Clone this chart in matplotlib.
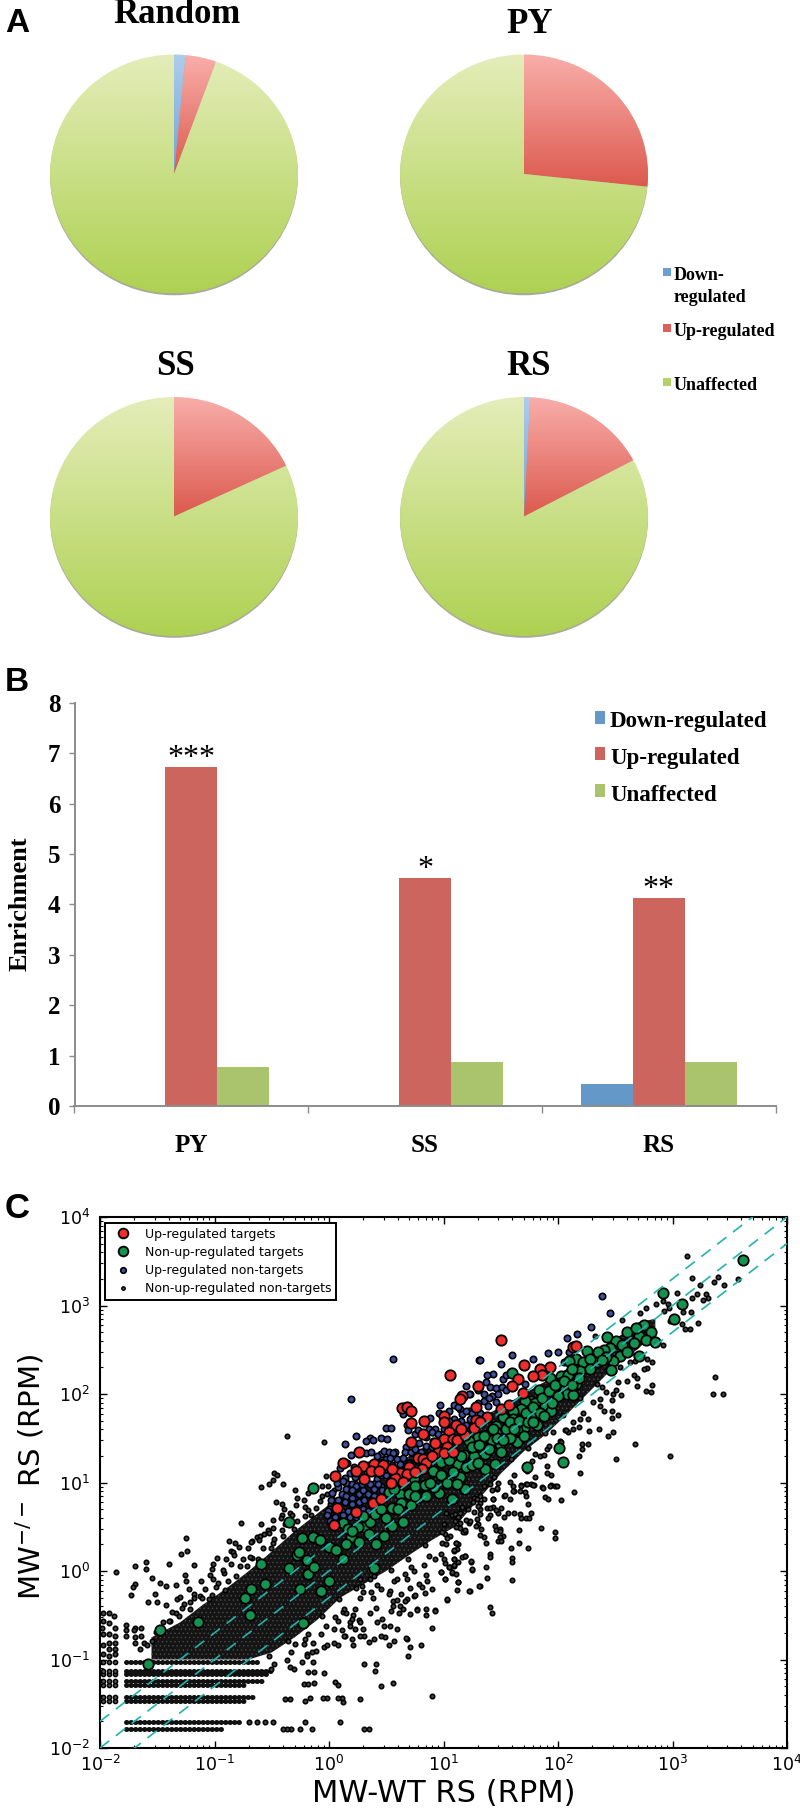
import numpy as np
import matplotlib
matplotlib.use("Agg")
import matplotlib.pyplot as plt
from matplotlib.colors import LinearSegmentedColormap
from matplotlib.lines import Line2D
from matplotlib.patches import Ellipse, Rectangle
from matplotlib.ticker import LogLocator, NullFormatter

W, H = 800, 1810
SERIF = ["Liberation Serif", "DejaVu Serif"]

# Panel A: pie shares (percent), order is down, up, unaffected
pie_names = ["Random", "PY", "SS", "RS"]
pie_down = [1.5, 0, 0, 0.8]
pie_up = [4.0, 26.7, 18.0, 16.4]
pie_unaffected = [94.5, 73.3, 82.0, 82.8]

# Panel B: enrichment
groups = ["PY", "SS", "RS"]
enrich_down = [0, 0, 0.44]
enrich_up = [6.72, 4.52, 4.13]
enrich_unaffected = [0.78, 0.87, 0.88]
stars = ["***", "*", "**"]
legend_names = ["Down-regulated", "Up-regulated", "Unaffected"]

# Panel C: points, as (log10 x, log10 y)
up_targets = np.array([
    (1.06,2.22),(1.16,1.98),(1.14,1.94),(1.30,2.09),(0.64,1.84),(0.68,1.85),(0.72,1.81),(0.72,1.67),
    (0.83,1.69),(1.00,1.75),(1.00,1.68),(1.11,1.65),(1.28,1.85),(1.28,1.71),(1.27,1.62),(0.82,1.55),
    (1.05,1.57),(1.16,1.55),(1.00,1.49),(1.08,1.49),(1.12,1.48),(0.72,1.46),(1.03,1.40),(0.95,1.35),
    (1.00,1.33),(0.26,1.34),(0.78,1.28),(0.82,1.27),(0.125,1.22),(0.30,1.19),(0.39,1.21),(0.47,1.20),
    (0.70,1.18),(0.85,1.22),(0.81,1.15),(0.24,1.13),(0.37,1.13),(0.62,1.11),(0.68,1.10),(0.05,1.07),
    (0.58,1.05),(0.31,1.04),(0.65,1.01),(0.54,1.00),(0.04,0.52),(0.07,0.71),(0.24,0.67),(0.38,0.77),
    (0.45,0.81),(1.50,2.61),(1.70,2.33),(2.13,2.53),(2.16,2.54),(1.93,2.30),(1.84,2.28),(1.86,2.21),
    (1.78,2.20),(1.65,2.17),(1.60,2.09),(1.69,2.01),(1.50,1.83),(1.57,1.88),(1.38,1.74),(1.32,1.68),
    (1.19,1.54),(0.90,1.30),(0.93,1.45),(1.15,1.60),(1.08,1.35),(0.55,1.15),(0.44,1.13),(0.75,1.12),
])
nonup_targets = np.array([
    (3.62,3.51),(2.92,3.14),(3.08,3.02),(3.01,2.85),(2.75,2.78),(2.71,2.66),(2.81,2.70),(2.77,2.61),
    (2.85,2.59),(2.43,2.64),(2.51,2.60),(2.45,2.52),(2.54,2.43),(2.71,2.43),(2.48,2.37),(2.46,2.27),
    (2.25,2.49),(2.40,2.50),(2.34,2.36),(2.16,2.40),(2.10,2.37),(2.22,2.36),(2.19,2.26),(2.03,2.20),
    (2.09,2.21),(1.93,2.18),(1.60,2.24),(2.02,2.12),(2.16,2.11),(2.06,2.06),(1.83,2.04),(1.76,1.92),
    (1.80,1.90),(1.90,1.92),(2.08,2.00),(2.13,1.99),(1.71,1.92),(1.89,1.86),(1.68,1.83),(1.61,1.81),
    (1.94,1.81),(1.77,1.75),(1.52,1.74),(1.61,1.72),(1.70,1.62),(1.46,1.64),(1.64,1.59),(1.54,1.51),
    (1.38,1.54),(1.30,1.51),(1.46,1.57),(1.22,1.47),(1.64,1.46),(1.49,1.43),(1.34,1.40),(1.10,1.30),
    (1.18,1.31),(1.27,1.30),(1.36,1.32),(1.13,1.21),(1.20,1.17),(1.36,1.15),(1.45,1.21),(0.98,1.23),
    (0.91,1.13),(0.98,1.08),(1.14,1.06),(0.85,0.97),(0.74,1.05),(0.96,0.88),(0.69,0.87),(0.79,0.85),
    (1.19,0.93),(2.01,1.39),(2.04,1.23),(1.73,1.18),(-0.14,0.94),(-0.35,0.55),(-0.24,0.37),(-0.14,0.38),
    (-0.08,0.35),(0.00,0.27),(0.06,0.24),(0.12,0.54),(0.17,0.48),(0.19,0.38),(0.26,0.33),(0.41,0.31),
    (0.31,0.50),(0.36,0.55),(0.40,0.64),(0.55,0.71),(0.55,0.51),(0.52,0.89),(0.62,0.87),(0.70,0.87),
    (0.57,0.93),(0.75,0.96),(0.84,0.97),(0.79,0.84),(0.63,0.77),(1.07,0.81),(-0.28,0.18),(-0.26,0.21),
    (-0.19,0.12),(0.12,0.14),(-0.35,0.03),(-0.18,-0.03),(-0.13,0.05),(0.00,-0.11),(-0.07,-0.23),
    (-0.25,-0.20),(0.39,0.03),(-0.23,-0.59),(-0.59,0.08),(-0.73,-0.30),(-0.68,-0.20),(-0.56,-0.15),
    (-0.69,-0.50),(-1.14,-0.58),(-1.48,-0.67),(-1.58,-1.05),
    # the thick ridge along the guides
    (1.25,1.40),(1.31,1.42),(1.42,1.48),(1.47,1.50),(1.55,1.60),(1.58,1.68),(1.66,1.70),(1.72,1.78),
    (1.74,1.68),(1.78,1.85),(1.84,1.78),(1.86,1.95),(1.92,2.03),(1.97,2.10),(2.00,1.98),(2.05,2.15),
    (2.12,2.28),(2.18,2.18),(2.28,2.40),(2.35,2.48),(2.42,2.42),(2.56,2.55),(2.60,2.70),(2.68,2.75),
    (1.05,1.25),(1.08,1.12),(1.15,1.30),(1.25,1.20),(1.30,1.22),(1.40,1.38),(1.50,1.35),(1.58,1.50),
    (1.70,1.52),(1.82,1.65),(0.92,0.95),(0.88,1.00),(0.72,0.75),(0.60,0.70),(0.50,0.60),(0.45,0.70),
    (0.30,0.62),(0.25,0.50),(0.20,0.45),(0.15,0.30),(0.35,0.42),(0.48,0.40),(0.65,0.55),(1.03,1.00),
    (1.12,0.98),(0.85,0.85),(0.75,0.85),(1.35,1.52),(1.43,1.60),(1.52,1.48),(1.62,1.60),(1.78,1.68),
    (1.88,1.75),(1.95,1.90),(2.12,2.10),(2.28,2.28),(2.38,2.38),(2.60,2.48),(2.66,2.58),
])
up_nontargets = np.array([
    (0.56,2.39),(1.31,2.38),(1.20,2.09),(1.23,2.00),(0.19,1.94),(0.97,1.88),(0.65,1.77),(1.05,1.81),
    (1.09,1.88),(1.14,1.83),(0.96,1.78),(0.88,1.73),(0.50,1.62),(0.54,1.62),(0.68,1.65),(0.69,1.59),
    (0.24,1.52),(0.45,1.50),(0.51,1.49),(0.36,1.50),(0.32,1.47),(0.38,1.48),(0.14,1.44),(0.19,1.31),
    (0.32,1.33),(0.37,1.34),(0.45,1.32),(0.48,1.36),(0.52,1.35),(0.58,1.34),(0.42,1.30),(0.56,1.33),
    (0.67,1.40),(0.75,1.55),(0.78,1.59),(0.87,1.60),(0.91,1.57),(0.85,1.51),(0.91,1.47),(0.79,1.45),
    (0.85,1.41),(0.66,1.34),(0.72,1.34),(0.90,1.40),(0.94,1.45),(1.09,1.72),(1.16,1.77),(1.22,1.81),
    (1.06,1.64),(0.59,1.26),(0.50,1.26),(0.45,1.23),(0.62,1.21),(0.18,1.11),(0.14,1.05),(0.10,1.16),
    (0.23,1.06),(0.29,1.09),(0.42,1.04),(0.45,1.09),(0.50,1.08),(0.17,0.98),(0.23,0.98),(0.39,0.98),
    (0.45,0.96),(2.38,3.11),(2.45,2.91),(2.29,2.76),(2.17,2.68),(2.08,2.63),(2.00,2.47),(1.91,2.46),
    (1.78,2.40),(1.60,2.44),(1.50,2.34),(1.32,2.38),(1.43,2.23),(1.38,2.21),(1.37,2.14),(1.52,2.17),
    (1.55,2.22),(1.22,2.00),(1.41,2.08),(1.46,2.07),(1.51,2.08),(1.30,2.04),(1.42,1.98),(1.35,1.92),
    (1.39,1.87),(1.46,1.91),(1.13,1.85),(1.20,1.81),(1.23,1.72),(1.32,1.79),(2.10,2.47),(2.05,2.36),
    (1.71,2.11),(0.93,1.60),(0.90,1.57),(0.02,0.80),(0.01,0.70),(0.15,1.00),(0.20,0.98),(0.24,0.96),
    (0.15,0.93),(0.20,0.91),(0.11,0.87),(0.15,0.85),(0.20,0.83),(0.26,0.87),(0.30,0.91),(0.34,0.87),
    (0.08,0.80),(0.14,0.78),(0.20,0.76),(0.26,0.78),(0.31,0.80),(-0.01,0.68),(0.11,0.68),(0.17,0.68),
    (0.30,0.70),(-0.02,0.63),(0.05,0.61),(0.12,0.63),(0.18,0.61),(0.24,0.61),(0.01,0.57),(0.10,0.57),
    (0.39,0.93),(0.43,0.98),(0.29,0.98),(0.36,0.98),(0.46,0.91),(0.39,0.85),(0.34,0.68),(0.27,0.64),
    # wedge above the ridge
    (0.50,1.15),(0.55,1.20),(0.65,1.28),(0.70,1.22),(0.75,1.38),(0.80,1.35),(0.85,1.30),(0.90,1.25),
    (0.95,1.55),(1.00,1.60),(1.05,1.70),(1.10,1.55),(1.15,1.70),(1.20,1.65),(1.25,1.78),(1.30,1.90),
    (1.35,2.00),(1.40,1.95),(1.48,2.00),(1.55,2.05),(0.55,1.00),(0.60,0.98),(0.08,0.95),(0.03,0.88),
    (0.07,1.00),(0.12,1.02),(0.28,1.15),(0.34,1.20),(0.22,1.18),(0.16,1.22),(0.40,1.14),(0.53,1.28),
])
nonup_nontargets = np.array([
    # lower right of the cloud
    (2.14,0.89),(1.97,0.96),(1.94,0.97),(1.86,0.95),(1.89,0.84),(1.91,0.81),(2.03,0.80),(1.79,0.97),
    (1.76,0.98),(1.72,0.98),(1.68,0.97),(1.61,0.96),(1.62,0.90),(1.67,0.90),(1.72,0.85),(1.53,0.85),
    (1.58,0.81),(1.74,0.76),(1.43,0.81),(1.50,0.71),(1.43,0.72),(1.38,0.71),(1.41,0.71),(1.48,0.66),
    (1.56,0.66),(1.62,0.65),(1.67,0.64),(1.76,0.65),(1.68,0.60),(1.72,0.60),(1.75,0.60),(1.53,0.61),
    (1.41,0.63),(1.39,0.60),(1.45,0.51),(1.49,0.48),(1.46,0.46),(1.49,0.45),(1.66,0.46),(1.85,0.49),
    (1.97,0.44),(1.97,0.37),(1.52,0.39),(1.49,0.38),(1.48,0.34),(1.50,0.34),(1.66,0.32),(1.37,0.32),
    (1.35,0.38),(1.32,0.41),(1.33,0.48),(1.30,0.53),(1.29,0.59),(1.22,0.54),(1.19,0.44),(1.23,0.57),
    (1.20,0.58),(1.14,0.49),(1.11,0.50),(1.10,0.57),(1.06,0.39),(1.01,0.42),(1.03,0.37),(0.99,0.32),
    (1.11,0.32),(1.12,0.25),(1.09,0.23),(1.59,0.26),(1.74,0.26),(1.41,0.19),(1.41,0.16),(1.60,0.15),
    (1.60,0.10),(1.19,0.17),(1.09,0.14),(1.24,0.10),(1.13,0.10),(1.37,0.05),(1.09,0.06),(1.05,0.05),
    (1.25,0.01),(0.98,-0.01),(1.07,-0.02),(1.38,-0.08),(1.60,-0.10),(1.01,-0.09),(1.13,-0.12),
    (1.32,-0.17),(1.12,-0.21),(1.23,-0.23),(1.03,-0.33),(1.41,-0.41),(1.42,-0.48),(1.48,1.00),(1.41,0.98),
    (1.42,0.91),(1.47,0.93),(1.35,0.96),(1.32,0.85),(1.27,0.83),(1.35,0.81),(1.32,0.77),(1.26,0.78),
    (1.21,0.70),(1.27,0.67),(1.32,0.70),(1.30,0.74),(1.16,0.72),(1.07,0.63),(1.10,0.64),(1.14,0.66),
    # upper right
    (3.13,3.56),(3.17,3.31),(3.36,3.27),(3.40,3.32),(3.45,3.23),(3.57,3.30),(3.24,3.23),(3.04,3.14),
    (2.92,3.05),(3.17,3.09),(3.21,3.13),(3.29,3.13),(3.31,3.08),(3.27,3.06),(2.96,3.02),(3.09,2.93),
    (3.16,2.93),(2.93,2.94),(2.97,2.97),(2.86,3.02),(2.77,2.97),(2.72,2.91),(2.56,2.84),(2.32,2.66),
    (3.08,2.79),(3.11,2.74),(3.15,2.73),(3.22,2.80),(2.98,2.83),(2.92,2.55),(2.82,2.36),(2.78,2.29),
    (2.75,2.28),(2.78,2.39),(3.37,2.19),(3.35,2.00),(3.44,2.00),(2.82,2.10),(2.77,2.03),(2.81,2.02),
    (2.69,2.09),(2.69,2.18),(2.60,2.15),(2.66,2.21),(2.54,2.30),(2.63,2.36),(2.55,1.99),(2.51,2.04),
    (2.48,2.00),(2.42,2.02),(2.38,2.08),(2.47,1.93),(2.37,1.87),(2.40,1.81),(2.31,1.91),(2.47,1.81),
    (2.52,1.76),(2.47,1.73),(2.36,1.61),(2.27,1.58),(2.48,1.57),(2.44,1.52),(2.67,1.43),(2.98,1.30),
    (2.51,1.26),(2.21,1.44),(2.26,1.44),(2.21,1.38),(2.18,1.30),(2.19,1.11),(2.19,1.72),(2.26,1.72),
    (2.13,1.68),(2.09,1.57),(2.13,1.60),(2.06,1.59),(1.96,1.57),(2.02,1.47),(1.90,1.38),(1.80,1.32),
    (1.84,1.30),(1.90,1.19),(1.94,1.08),(1.90,1.11),(1.80,1.06),(1.73,0.98),(1.78,0.97),(1.68,0.96),
    (1.87,0.94),(1.93,0.96),(1.99,0.96),(1.71,0.89),(1.54,0.86),(1.61,0.90),
    # upper left
    (-0.37,1.53),(-0.04,1.46),(-0.59,0.95),(-0.52,0.98),(-0.49,1.03),(-0.48,1.11),(-0.45,1.08),
    (-0.40,0.98),(-0.30,0.92),(-0.28,0.83),(-0.18,0.88),(-0.06,0.96),(-0.03,1.07),(-0.01,0.96),
    (-0.06,0.85),(-0.02,0.87),(0.04,0.91),(-1.86,-0.01),(-1.69,0.06),(-1.60,0.10),(-1.60,0.02),
    (-1.55,-0.08),(-1.69,-0.15),(-1.71,-0.18),(-1.73,-0.27),(-1.40,0.08),(-1.25,0.37),(-1.24,0.23),
    (-1.29,0.19),(-1.18,0.07),(-1.26,-0.05),(-1.25,-0.11),(-1.42,-0.17),(-1.34,-0.16),(-1.48,-0.13),
    (-1.52,-0.26),(-1.58,-0.35),(-1.50,-0.35),(-1.97,-0.47),(-1.92,-0.47),(-1.88,-0.51),(-1.92,-0.59),
    (-1.97,-0.56),(-1.98,-0.64),(-1.87,-0.64),(-1.77,-0.61),(-1.69,-0.64),(-1.64,-0.64),(-1.77,-0.67),
    (-1.70,-0.67),(-1.97,-0.71),(-1.92,-0.71),(-1.87,-0.73),(-1.77,-0.73),(-1.69,-0.75),(-1.64,-0.73),
    (-1.92,-0.81),(-1.87,-0.81),(-1.97,-0.84),(-1.87,-0.88),(-1.92,-0.88),(-1.97,-0.94),(-1.92,-0.96),
    (-1.87,-0.94),(-1.69,-0.81),(-1.62,-0.81),(-1.65,-0.88),(-1.59,-0.84),(-1.55,-0.79),(-1.51,-0.69),
    (-1.45,-0.58),(-1.39,-0.56),(-1.34,-0.47),(-1.27,-0.37),(-1.33,-0.32),(-1.21,-0.35),(-1.13,-0.28),
    (-1.18,-0.26),(-1.05,-0.32),(-0.99,-0.18),(-1.01,-0.09),(-0.98,0.15),(-1.01,0.08),(-1.02,0.02),
    (-0.92,-0.02),(-0.86,0.08),(-0.86,0.23),(-0.84,0.21),(-0.87,0.34),(-0.82,0.32),(-0.77,0.54),
    (-0.67,0.34),(-0.63,0.38),(-0.59,0.53),(-0.53,0.46),(-0.49,0.49),(-0.67,0.15),(-0.75,0.14),
    (-0.60,0.40),(-0.46,0.78),(-0.41,0.76),(-0.41,0.63),(-0.34,0.66),(-0.21,0.72),(-0.16,0.63),
    (-0.49,0.32),(-0.40,0.40),
    # fringe above the solid part
    (-1.40,-0.56),(-1.37,-0.46),(-1.42,-0.38),(-1.31,-0.51),(-1.28,-0.42),(-1.30,-0.29),(-1.21,-0.43),
    (-1.18,-0.31),(-1.22,-0.20),(-1.11,-0.31),(-1.08,-0.20),(-1.12,-0.11),(-1.02,-0.27),(-0.97,-0.14),
    (-1.04,-0.04),(-0.91,-0.21),(-0.88,-0.11),(-0.93,0.01),(-0.90,0.13),(-0.81,-0.06),(-0.78,0.06),
    (-0.83,0.18),(-0.79,0.27),(-0.72,0.06),(-0.69,0.16),(-0.71,0.26),(-0.68,0.33),(-0.62,0.13),
    (-0.58,0.26),(-0.61,0.35),(-0.57,0.42),(-0.51,0.26),(-0.48,0.36),(-0.52,0.43),(-0.49,0.58),
    (-0.41,0.46),(-0.38,0.53),(-0.42,0.60),(-0.39,0.70),(-0.31,0.47),(-0.28,0.56),(-0.32,0.63),
    (-0.29,0.75),(-0.21,0.62),(-0.18,0.69),(-0.22,0.80),(-0.11,0.71),(-0.08,0.79),(0.01,0.76),(0.03,0.83),
    # fringe below the solid part
    (-0.52,-0.96),(-0.48,-1.05),(-0.51,-1.11),(-0.36,-0.79),(-0.33,-0.91),(-0.37,-1.01),(-0.34,-1.09),
    (-0.21,-0.61),(-0.18,-0.71),(-0.22,-0.83),(-0.19,-0.94),(-0.06,-0.51),(-0.03,-0.62),(-0.07,-0.71),
    (-0.04,-0.86),(0.09,-0.32),(0.12,-0.46),(0.08,-0.56),(0.11,-0.67),(0.24,-0.19),(0.27,-0.31),
    (0.23,-0.43),(0.26,-0.55),(0.39,-0.06),(0.42,-0.16),(0.38,-0.31),(0.41,-0.42),(0.54,0.01),(0.57,-0.11),
    (0.53,-0.23),(0.56,-0.34),(0.69,0.14),(0.72,0.04),(0.68,-0.09),(0.71,-0.19),(0.84,0.29),(0.87,0.17),
    (0.83,0.07),(0.86,-0.11),(0.99,0.44),(1.02,0.31),(0.98,0.19),(1.01,0.09),(1.14,0.54),(1.17,0.44),
    (1.13,0.31),(1.16,0.16),(1.29,0.81),(1.32,0.64),(1.28,0.51),(1.44,1.06),(1.47,0.94),(1.43,0.81),
    (1.46,0.69),(1.59,1.26),(1.62,1.09),(1.58,1.01),(1.74,1.39),(1.77,1.24),(1.73,1.13),(1.89,1.56),
    (1.92,1.41),(1.88,1.31),(2.04,1.76),(2.07,1.59),(2.03,1.46),(2.19,1.96),(2.22,1.79),(2.18,1.63),
    (2.34,2.11),(2.37,1.94),(2.49,2.26),(2.52,2.14),(2.64,2.46),(2.67,2.37),
    # under the cloud
    (0.45,-1.30),(0.56,-1.26),(0.90,-1.41),(0.41,-1.05),(0.40,-1.13),(0.31,-1.05),(0.27,-1.45),
    (0.12,-1.48),(0.11,-1.43),(0.05,-1.25),(0.08,-1.29),(-0.04,-1.15),(0.08,-1.43),(-0.02,-1.44),
    (-0.055,-1.44),(-0.17,-1.43),(-0.21,-1.47),(-0.34,-1.45),(-0.38,-1.45),(-0.22,-1.28),(-0.18,-1.28),
    (-0.13,-1.27),(0.10,-1.71),(0.31,-1.78),(0.35,-1.78),(-0.15,-1.78),(-0.21,-1.71),(-0.25,-1.78),
    (-0.33,-1.78),(-0.37,-1.78),(-0.40,-1.78),(-0.49,-1.71),(-0.56,-1.71),(-0.63,-1.71),(-0.70,-1.71),
    (0.68,-0.77),(0.71,-0.86),(0.80,-0.84),(0.69,-0.96),(0.49,-0.75),(0.45,-0.73),(0.52,-0.84),
    (0.57,-0.79),(0.39,-0.77),(0.21,-0.84),(0.20,-0.77),(0.31,-0.73),(0.04,-0.81),(0.08,-0.84),
    (-0.11,-0.90),(-0.15,-0.92),(-0.19,-0.96),(-0.24,-1.03),(-0.14,-1.03),(-0.18,-1.14),(-0.13,-1.14),
    (-0.31,-1.11),(0.90,-0.64),(0.85,-0.50),(0.93,-0.44),(1.03,-0.32),(0.62,-0.39),(0.65,-0.43),
    (0.56,-0.39),(0.77,-0.43),(0.71,-0.49),(0.68,-0.32),(0.74,-0.28),(1.01,-0.09),(1.06,0.04),
    (1.11,-0.03),(1.00,0.14),(0.85,-0.05),(0.79,-0.15),(0.42,-0.58),(0.48,-0.62),(0.27,-0.58),
    (0.21,-0.50),(0.18,-0.58),(0.04,-0.66),(0.14,-0.73),(1.22,-0.23),(1.31,-0.17),(0.67,-0.76),
    (0.53,-0.62),(0.59,-0.66),(0.35,-0.80),(0.30,-0.66),(0.23,-0.66),(0.93,-0.45),(0.85,-0.43),
    (0.77,-0.44),(0.61,-0.47),(0.54,-0.45),(0.66,-0.34),(0.75,-0.27),(0.84,-0.25),(0.90,-0.20),
    (0.81,-0.18),(1.13,-0.12),(0.98,-0.01),(1.07,-0.01),(1.05,0.05),(1.09,0.07),(1.19,0.17),
    (1.24,0.11),(1.25,0.02),(1.09,0.14),(0.93,0.14),(1.09,0.24),(1.11,0.32),(1.19,0.46),(1.13,0.61),
    (1.00,0.53),(1.02,0.66),(0.59,-0.33),(0.63,-0.26),(0.52,-0.26),(0.45,-0.20),(0.37,-0.24),
    (0.36,-0.09),(0.74,0.00),(0.66,-0.03),(0.59,-0.09),(0.27,-0.09),(0.29,-0.17),(0.30,-0.24),
    (0.15,-0.47),(0.20,-0.54),(0.36,-0.47),(0.46,-0.54),(0.05,-0.52),(0.13,-0.43),(-0.14,-0.81),
    (-0.30,-0.83),(-0.21,-0.77),(-0.02,-0.84),(0.13,-0.73),(0.18,-0.62),(0.27,-0.73),
])
# rows of low counts: level, and where the unbroken run starts and ends (log10)
row_levels = [-1.78, -1.71, -1.47, -1.42, -1.29, -1.24, -1.16, -1.13, -1.03]
row_start = [-1.77, -1.77, -1.77, -1.77, -1.77, -1.77, -1.77, -1.77, -1.77]
row_end = [-0.94, -0.78, -0.74, -0.65, -0.72, -0.58, -0.54, -0.50, -0.62]
left_columns = [-1.97, -1.92, -1.87]
# thousands of overlapping points in the middle, too dense to read one by one:
# outline of the solid part of the cloud (log10)
core_x = [-1.55,-1.3,-1.1,-0.9,-0.7,-0.5,-0.3,-0.1,0.1,0.3,0.5,0.7,0.9,1.1,1.3,1.5,1.7,1.9,2.1,2.3,2.5,2.7,2.85]
core_low = [-1.0,-1.0,-1.0,-1.0,-1.0,-0.92,-0.75,-0.55,-0.3,-0.15,0.0,0.18,0.35,0.5,0.8,1.1,1.35,1.55,1.8,2.06,2.32,2.51,2.70]
core_high = [-0.75,-0.58,-0.38,-0.2,0.0,0.22,0.45,0.65,0.85,0.95,1.12,1.3,1.45,1.6,1.72,1.85,2.0,2.15,2.3,2.43,2.62,2.81,2.85]
# dashed guides at ratio 1/2, 1 and 2
guide_ratios = [0.5, 1, 2]
guide_x = [1e-2, 1e4]
decades = [1e-2, 1e-1, 1e0, 1e1, 1e2, 1e3, 1e4]

plt.rcParams["font.family"] = ["DejaVu Sans"]
plt.rcParams["hatch.linewidth"] = 0.5
fig = plt.figure(figsize=(W / 100, H / 100), dpi=100)


def axes_px(left, top, right, bottom):
    return fig.add_axes([left / W, 1 - bottom / H, (right - left) / W, (bottom - top) / H])


def text_px(x, y, s, **kw):
    return fig.text(x / W, 1 - y / H, s, **kw)


# ---- Panel A
gradients = [("#aecdec", "#6fa3d8"), ("#f9aeaa", "#dc5a4e"), ("#e4edb9", "#aed152")]
pie_centres = [(174, 174), (524, 174), (174, 516.5), (524, 516.5)]
title_pos = [(177, 23), (530, 33), (175, 375), (529, 375)]
rx, ry = 124, 119.5
pad = 1.04

for i, name in enumerate(pie_names):
    cx, cy = pie_centres[i]
    ax = axes_px(cx - rx * pad, cy - ry * pad, cx + rx * pad, cy + ry * pad)
    shares = [pie_down[i], pie_up[i], pie_unaffected[i]]
    ax.add_patch(Ellipse((0, -0.015), 2.0, 2.0, color="#a9a99b", lw=0))
    wedges, _ = ax.pie(shares, startangle=90, counterclock=False, radius=1)
    ax.set_aspect("auto")
    for w, share, (c1, c2) in zip(wedges, shares, gradients):
        w.set_facecolor("none")
        w.set_edgecolor("none")
        if share == 0:
            continue
        bb = w.get_path().get_extents()
        cmap = LinearSegmentedColormap.from_list("g", [c1, c2])
        im = ax.imshow(np.linspace(0, 1, 200).reshape(-1, 1), cmap=cmap, aspect="auto",
                       extent=[bb.x0, bb.x1, bb.y0, bb.y1], origin="upper", zorder=2)
        im.set_clip_path(w)
    ax.set_xlim(-pad, pad)
    ax.set_ylim(-pad, pad)
    ax.axis("off")
    tx, ty = title_pos[i]
    text_px(tx, ty, name, family=SERIF, weight="bold", fontsize=25, ha="center", va="baseline")

# small legend to the right of the pies
for y, c in zip([272, 328, 382], ["#6a9fd6", "#d9625a", "#b5d167"]):
    fig.add_artist(Rectangle((663 / W, 1 - (y + 4) / H), 8 / W, 8 / H, color=c, lw=0,
                             transform=fig.transFigure))
for y, s in zip([276, 297, 331, 386], ["Down-", "regulated", "Up-regulated", "Unaffected"]):
    text_px(674, y, s, family=SERIF, weight="bold", fontsize=13, ha="left", va="center")

panel_font = ["Liberation Sans", "DejaVu Sans"]
text_px(5, 32, "A", family=panel_font, weight="bold", fontsize=24, va="baseline")
text_px(5, 691, "B", family=panel_font, weight="bold", fontsize=24, va="baseline")
text_px(5, 1218, "C", family=panel_font, weight="bold", fontsize=25, va="baseline")

# ---- Panel B
ax = axes_px(74.5, 702.7, 775.5, 1106)
x = np.arange(len(groups))
bw = 0.2225
ax.bar(x - bw, enrich_down, bw, color="#6398c9")
ax.bar(x, enrich_up, bw, color="#cd655f")
ax.bar(x + bw, enrich_unaffected, bw, color="#a9c46c")
ax.set_xlim(-0.5, 2.5)
ax.set_ylim(0, 8)
for s in ["top", "right"]:
    ax.spines[s].set_visible(False)
for s in ["left", "bottom"]:
    ax.spines[s].set_color("#8c8c8c")
    ax.spines[s].set_linewidth(1.4)
ax.set_xticks([-0.5, 0.5, 1.5, 2.5])
ax.set_xticklabels([])
ax.set_yticks(range(9))
ax.set_yticklabels(range(9), family=SERIF, weight="bold", fontsize=18)
ax.tick_params(axis="y", length=4, width=1, color="#8c8c8c", pad=6)
ax.tick_params(axis="x", length=5, width=1, color="#8c8c8c")
for i, g in enumerate(groups):
    ax.annotate(g, (i, 0), xytext=(0, -40), textcoords="offset pixels", ha="center", va="center",
                family=SERIF, weight="bold", fontsize=18)
    ax.text(i, enrich_up[i] - 0.12, stars[i], ha="center", va="bottom", family=SERIF,
            fontsize=23, color="black")
text_px(20, 904, "Enrichment", family=SERIF, weight="bold", fontsize=19, rotation=90,
        ha="center", va="center")
for y, s, c in zip([717, 754, 791], legend_names, ["#6398c9", "#cd655f", "#a9c46c"]):
    fig.add_artist(Rectangle((595 / W, 1 - (y + 6.5) / H), 10 / W, 13 / H, color=c, lw=0,
                             transform=fig.transFigure))
    text_px(610, y + 4, s, family=SERIF, weight="bold", fontsize=16.5, ha="left", va="center")

# ---- Panel C
ax = axes_px(100, 1217, 787, 1748)
ax.set_xscale("log")
ax.set_yscale("log")
ax.fill_between(10 ** np.array(core_x), 10 ** np.array(core_low), 10 ** np.array(core_high),
                facecolor="#141414", edgecolor="#4a4a4a", hatch="....", lw=0, zorder=2)
rows = ax.hlines(10 ** np.array(row_levels), 10 ** np.array(row_start), 10 ** np.array(row_end),
                 color="#111111", lw=3.6, linestyles=[(0, (0.1, 0.8))], zorder=2)
rows.set_capstyle("round")
col_x, col_y = np.meshgrid(left_columns, row_levels[2:])
ax.scatter(10 ** col_x.ravel(), 10 ** col_y.ravel(), s=9, c="#555555", edgecolors="black",
           linewidths=1.1, zorder=3)
ax.scatter(10 ** nonup_nontargets[:, 0], 10 ** nonup_nontargets[:, 1], s=10, c="#4a4a4a",
           edgecolors="black", linewidths=1.2, zorder=3)
ax.scatter(10 ** up_nontargets[:, 0], 10 ** up_nontargets[:, 1], s=21, c="#3f51a0",
           edgecolors="black", linewidths=1.2, zorder=4)
ax.scatter(10 ** nonup_targets[:, 0], 10 ** nonup_targets[:, 1], s=56, c="#15924f",
           edgecolors="black", linewidths=1.3, zorder=5)
ax.scatter(10 ** up_targets[:, 0], 10 ** up_targets[:, 1], s=56, c="#f02d2d",
           edgecolors="black", linewidths=1.3, zorder=6)
for r in guide_ratios:
    ax.plot(guide_x, np.array(guide_x) * r, color="#22b3ad", lw=1.2, ls=(0, (7, 5)), zorder=7)
ax.set_xticks(decades)
ax.set_yticks(decades)
ax.set_xlim(1e-2, 1e4)
ax.set_ylim(1e-2, 1e4)
for s in ax.spines.values():
    s.set_linewidth(1.5)
for axis in (ax.xaxis, ax.yaxis):
    axis.set_minor_locator(LogLocator(base=10, subs=np.arange(2, 10), numticks=100))
    axis.set_minor_formatter(NullFormatter())
ax.tick_params(which="major", direction="in", top=True, right=True, length=5, width=1, labelsize=12.5)
ax.tick_params(axis="x", which="major", pad=5)
ax.tick_params(axis="y", which="major", pad=7)
ax.tick_params(which="minor", direction="in", top=True, right=True, length=2.5, width=0.8)
handles = [
    Line2D([], [], ls="", marker="o", ms=7, mfc="#f02d2d", mec="black", mew=1.3),
    Line2D([], [], ls="", marker="o", ms=7, mfc="#15924f", mec="black", mew=1.3),
    Line2D([], [], ls="", marker="o", ms=4, mfc="#3f51a0", mec="black", mew=1.2),
    Line2D([], [], ls="", marker="o", ms=2.5, mfc="#555555", mec="black", mew=1.0),
]
leg = ax.legend(handles, ["Up-regulated targets", "Non-up-regulated targets",
                          "Up-regulated non-targets", "Non-up-regulated non-targets"],
                loc="upper left", bbox_to_anchor=(0.008, 0.989), fontsize=9, fancybox=False,
                edgecolor="black", framealpha=1, borderaxespad=0, labelspacing=0.42,
                handletextpad=0.75, borderpad=0.38)
leg.get_frame().set_linewidth(1.4)
leg.set_zorder(10)
text_px(444, 1793, "MW-WT RS (RPM)", fontsize=22, ha="center", va="center")
text_px(30, 1477, "MW$^{-/-}$ RS (RPM)", fontsize=21, rotation=90, ha="center", va="center")

fig.savefig("out.png", dpi=100)
